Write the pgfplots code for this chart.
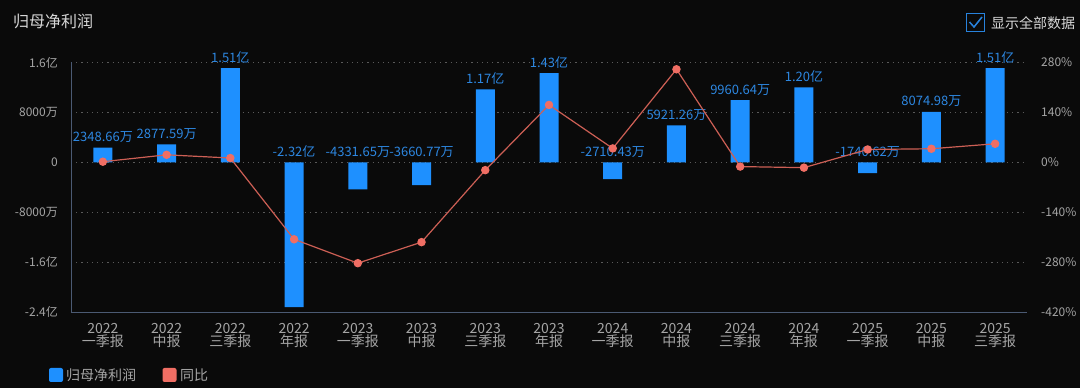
\documentclass[border=0pt]{standalone}
\usepackage{pgfplots}
\pgfplotsset{compat=1.18}
\usepackage{pgfplotstable}
\usepackage{fontspec}
\setmainfont{Noto Sans CJK SC}
\definecolor{bg}{RGB}{10,10,10}
\definecolor{barblue}{RGB}{30,144,255}
\definecolor{lblblue}{RGB}{45,135,225}
\definecolor{linered}{RGB}{205,95,85}
\definecolor{markred}{RGB}{240,110,100}
\definecolor{ticktxt}{RGB}{165,165,165}
\definecolor{axisline}{RGB}{75,90,115}
\definecolor{gridc}{RGB}{90,90,90}
\definecolor{titletxt}{RGB}{215,215,215}
\definecolor{chkblue}{RGB}{40,130,220}

\pgfplotstableread{
x  val       ly       lbl
0  2348.66   2348.66  2348.66万
1  2877.59   2877.59  2877.59万
2  15100     15100    1.51亿
3  -23200    0        -2.32亿
4  -4331.65  0        -4331.65万
5  -3660.77  0        -3660.77万
6  11700     11700    1.17亿
7  14300     14300    1.43亿
8  -2710.43  0        -2710.43万
9  5921.26   5921.26  5921.26万
10 9960.64   9960.64  9960.64万
11 12000     12000    1.20亿
12 -1740.62  0        -1740.62万
13 8074.98   8074.98  8074.98万
14 15100     15100    1.51亿
}\bars

\pgfplotstableread{
x  yoy
0  1.7
1  21
2  12
3  -216
4  -283
5  -224
6  -22
7  161
8  39
9  261
10 -12
11 -15
12 36
13 38
14 52
}\yoy

\begin{document}
\begin{tikzpicture}[x=1pt,y=1pt]
\fill[bg] (0,0) rectangle (1080,388);

\begin{axis}[
  at={(71pt,76pt)}, anchor=south west,
  width=956pt, height=249.5pt, scale only axis,
  xmin=-0.5, xmax=14.5,
  ymin=-24000, ymax=16000,
  scaled y ticks=false,
  axis x line*=bottom, axis y line*=left,
  axis line style={draw=axisline, line width=0.8pt},
  ytick={-24000,-16000,-8000,0,8000,16000},
  yticklabels={-2.4亿,-1.6亿,-8000万,0,8000万,1.6亿},
  yticklabel style={font=\fontsize{12}{12}\selectfont, text=ticktxt, anchor=east, inner sep=0pt, xshift=-13pt},
  xtick={0,...,14},
  xticklabels={{2022\\一季报},{2022\\中报},{2022\\三季报},{2022\\年报},
               {2023\\一季报},{2023\\中报},{2023\\三季报},{2023\\年报},
               {2024\\一季报},{2024\\中报},{2024\\三季报},{2024\\年报},
               {2025\\一季报},{2025\\中报},{2025\\三季报}},
  xticklabel style={font=\fontsize{14}{13}\selectfont, text=ticktxt, align=center, anchor=north, inner sep=0pt, yshift=-11pt},
  major tick length=0pt,
  ymajorgrids,
  grid style={gridc, line width=0.8pt, dash pattern=on 1.2pt off 4pt},
  clip=false,
]
\addplot[ybar, bar width=19pt, fill=barblue, draw=none] table[x=x,y=val] {\bars};
\addplot[draw=none, mark=none, nodes near coords, point meta=explicit symbolic,
  nodes near coords style={font=\fontsize{13}{13}\selectfont, text=lblblue, anchor=base, inner sep=0pt, yshift=6pt}]
  table[x=x,y=ly,meta=lbl] {\bars};
\end{axis}

\begin{axis}[
  at={(71pt,76pt)}, anchor=south west,
  width=956pt, height=249.5pt, scale only axis,
  xmin=-0.5, xmax=14.5,
  ymin=-420, ymax=280,
  scaled y ticks=false,
  axis x line=none,
  axis y line*=right,
  axis line style={draw=none},
  ytick={-420,-280,-140,0,140,280},
  yticklabels={-420\%,-280\%,-140\%,0\%,140\%,280\%},
  yticklabel style={font=\fontsize{12}{12}\selectfont, text=ticktxt, anchor=west, inner sep=0pt, xshift=14pt},
  major tick length=0pt,
  clip=false,
]
\addplot[linered, line width=1.2pt, mark=*, mark size=3.6pt, mark options={fill=markred, draw=markred}] table[x=x,y=yoy] {\yoy};
\end{axis}

% title
\node[anchor=west, inner sep=0pt, text=titletxt, font=\fontsize{16}{16}\selectfont] at (13,367) {归母净利润};
% checkbox
\draw[chkblue, line width=1.3pt] (966.5,356.5) rectangle (984.5,374.5);
\draw[chkblue, line width=1.5pt] (969.5,366) -- (974,361) -- (982,371);
\node[anchor=west, inner sep=0pt, text=titletxt, font=\fontsize{14}{14}\selectfont] at (991,365) {显示全部数据};
% legend
\fill[barblue, rounded corners=2pt] (49,6) rectangle (63,20);
\node[anchor=west, inner sep=0pt, text=ticktxt, font=\fontsize{14}{14}\selectfont] at (66,13) {归母净利润};
\fill[markred, rounded corners=2pt] (162.5,6) rectangle (176.5,20);
\node[anchor=west, inner sep=0pt, text=ticktxt, font=\fontsize{14}{14}\selectfont] at (180,13) {同比};

\pgfresetboundingbox
\path[use as bounding box] (0,0) rectangle (1080,388);
\end{tikzpicture}
\end{document}
